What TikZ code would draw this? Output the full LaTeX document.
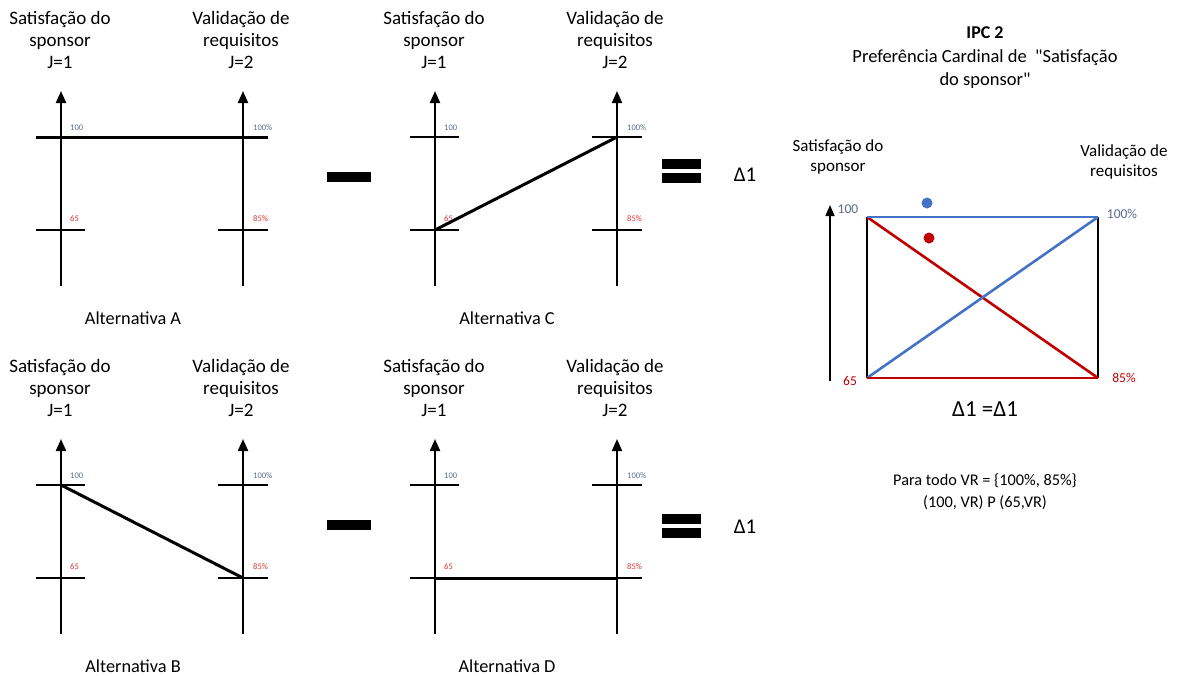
\documentclass[tikz,border=0pt]{standalone}
\usepackage{fontspec}
\setmainfont{Carlito}
\newfontfamily\qfont{Carlito}[Ligatures=ResetAll]
\usetikzlibrary{arrows.meta}
\definecolor{lblue}{HTML}{4472C4}
\definecolor{dred}{HTML}{C00000}
\definecolor{slate}{HTML}{5A6B8A}
\definecolor{lred}{HTML}{E0302A}
\begin{document}
\begin{tikzpicture}[x=1pt,y=-1pt,
  hdr/.style={align=center,font=\fontsize{19}{22}\selectfont,inner sep=0pt},
  alt/.style={font=\fontsize{18.3}{20}\selectfont,inner sep=0pt},
  axis/.style={line width=2pt,-{Triangle[width=10pt,length=12pt]}},
  tick/.style={line width=2pt},
  path/.style={line width=3pt},
  small/.style={font=\fontsize{8.5}{9}\selectfont,inner sep=0pt,anchor=west},
  bar/.style={fill=black,draw=none,inner sep=0pt},
  rtxt/.style={font=\fontsize{17}{20}\selectfont,inner sep=0pt,align=center},
  rlab/.style={font=\fontsize{13.5}{15}\selectfont,inner sep=0pt},
  edge/.style={line width=2.6pt}]
\useasboundingbox (0,0) rectangle (1181,675);

\foreach \p/\ox/\oy/\alt in {A/0/0/A, C/374/0/C, B/0/348/B, D/374/348/D}{
  \coordinate (\p-lb) at (61+\ox,286+\oy);
  \coordinate (\p-la) at (61+\ox,91+\oy);
  \coordinate (\p-rb) at (243+\ox,286+\oy);
  \coordinate (\p-ra) at (243+\ox,91+\oy);
  \coordinate (\p-lh) at (61+\ox,137+\oy);
  \coordinate (\p-ll) at (61+\ox,230+\oy);
  \coordinate (\p-rh) at (243+\ox,137+\oy);
  \coordinate (\p-rl) at (243+\ox,230+\oy);
  \draw[axis] (\p-lb) -- (\p-la);
  \draw[axis] (\p-rb) -- (\p-ra);
  \draw[tick] ([xshift=-25]\p-lh) -- ([xshift=24]\p-lh);
  \draw[tick] ([xshift=-25]\p-ll) -- ([xshift=24]\p-ll);
  \draw[tick] ([xshift=-25]\p-rh) -- ([xshift=25]\p-rh);
  \draw[tick] ([xshift=-25]\p-rl) -- ([xshift=25]\p-rl);
  \node[small,text=slate] (\p-t100) at (70+\ox,128+\oy) {100};
  \node[small,text=lred] (\p-t65) at (70+\ox,219+\oy) {65};
  \node[small,text=slate] (\p-t100p) at (253+\ox,128+\oy) {100\%};
  \node[small,text=lred] (\p-t85p) at (253+\ox,219+\oy) {85\%};
  \node[hdr] (\p-hl) at (60+\ox,40+\oy) {Satisfação do\\sponsor\\J=1};
  \node[hdr] (\p-hr) at (241+\ox,40+\oy) {Validação de\\requisitos\\J=2};
  \node[alt] (\p-alt) at (133+\ox,318+\oy) {Alternativa \alt};
}

% alternative profiles
\draw[path] ([xshift=-25]A-lh) -- ([xshift=25]A-rh);
\draw[path] (C-ll) -- (C-rh);
\draw[path] (B-lh) -- (B-rl);
\draw[path] (D-ll) -- (D-rl);

% operators
\node[bar,minimum width=44,minimum height=10] (minus1) at (349,177) {};
\node[bar,minimum width=44,minimum height=10] (minus2) at (349,525) {};
\node[bar,minimum width=39,minimum height=10] (eq1a) at (681,164) {};
\node[bar,minimum width=39,minimum height=10] (eq1b) at (681,178) {};
\node[bar,minimum width=39,minimum height=10] (eq2a) at (681,519) {};
\node[bar,minimum width=39,minimum height=10] (eq2b) at (681,533) {};
\node[alt,font=\fontsize{21}{24}\selectfont] (d1) at (745,175) {Δ1};
\node[alt,font=\fontsize{21}{24}\selectfont] (d2) at (745,527) {Δ1};

% right panel
\node[font=\fontsize{18}{20}\selectfont\bfseries,inner sep=0pt] (ipc) at (985,33) {IPC 2};
\node[rtxt,font=\fontsize{18.5}{23}\selectfont] (pref) at (985,69) {Preferência Cardinal de \ {\qfont"}Satisfação\\do sponsor{\qfont"}};
\node[rtxt] (rs) at (838,157) {Satisfação do\\sponsor};
\node[rtxt] (rv) at (1124,162) {Validação de\\requisitos};

\coordinate (R-tl) at (867,217);
\coordinate (R-tr) at (1098,217);
\coordinate (R-bl) at (867,378);
\coordinate (R-br) at (1098,378);
\coordinate (R-ab) at (830,381);
\coordinate (R-at) at (830,205);
\draw[line width=1.5pt,-{Triangle[width=9pt,length=11pt]}] (R-ab) -- (R-at);
\draw[edge] (R-tl) -- (R-bl);
\draw[edge] (R-tr) -- (R-br);
\draw[edge,dred] (R-tl) -- (R-br);
\draw[edge,lblue] (R-bl) -- (R-tr);
\draw[edge,lblue] (R-tl) -- (R-tr);
\draw[edge,dred] (R-bl) -- (R-br);
\node[rlab,text=slate] (r100) at (848,209) {100};
\node[rlab,text=slate] (r100p) at (1122,214) {100\%};
\node[rlab,text=dred] (r65) at (850,381) {65};
\node[rlab,text=dred] (r85p) at (1124,378) {85\%};
\node[circle,fill=lblue,inner sep=0pt,minimum size=11] (dotb) at (927,203) {};
\node[circle,fill=dred,inner sep=0pt,minimum size=11] (dotr) at (929,238) {};
\node[font=\fontsize{23}{26}\selectfont,inner sep=0pt] (eqd) at (985,409) {Δ1 =Δ1};
\node[rtxt,font=\fontsize{16.3}{22}\selectfont] (para) at (985,492) {Para todo VR = \{100\%, 85\%\}\\(100, VR) P (65,VR)};
\end{tikzpicture}
\end{document}
